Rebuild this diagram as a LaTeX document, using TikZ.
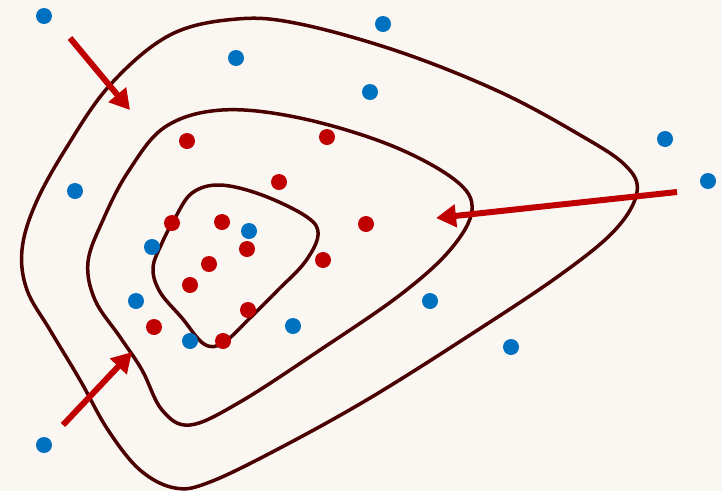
\documentclass[tikz,border=0pt]{standalone}
\usetikzlibrary{arrows.meta}
\definecolor{bg}{HTML}{FAF6F2}
\definecolor{dotblue}{HTML}{0070C0}
\definecolor{dotred}{HTML}{C00000}
\definecolor{contour}{HTML}{4A0000}
\tikzset{
  contourline/.style={draw=contour, line width=3.5pt, line join=round},
  bigarrow/.style={draw=dotred, line width=6pt, -{Triangle[length=20pt,width=22pt]}},
  bdot/.style={circle, fill=dotblue, inner sep=0pt, minimum size=16pt},
  rdot/.style={circle, fill=dotred, inner sep=0pt, minimum size=16pt}
}
\begin{document}
\begin{tikzpicture}[x=1pt,y=-1pt]
\fill[bg] (0,0) rectangle (722,491);
\useasboundingbox (0,0) rectangle (722,491);
% outer
\draw[contourline] plot[smooth cycle, tension=0.6] coordinates {
 (237,19) (300,24) (400,52) (500,92) (580,135) (625,165) (637,192) (615,230)
 (560,275) (470,335) (370,398) (280,448) (210,482) (175,488) (140,470)
 (108,430) (80,380) (50,330) (27,290) (22,250) (35,205) (65,150) (110,85) (170,35)};
% middle
\draw[contourline] plot[smooth cycle, tension=0.6] coordinates {
 (222,110) (300,118) (390,145) (455,180) (472,210) (450,250) (400,295)
 (320,350) (240,402) (190,425) (162,410) (142,370) (120,337) (95,300)
 (88,262) (103,220) (128,172) (165,127)};
% inner
\draw[contourline] plot[smooth cycle, tension=0.6] coordinates {
 (220,185) (262,195) (307,217) (318,235) (305,262) (278,290) (250,318)
 (223,343) (204,344) (182,318) (160,292) (153,268) (162,243) (175,218) (192,193)};
% arrows
\coordinate (a1s) at (70,38); \coordinate (a1e) at (130,110);
\coordinate (a2s) at (677,192); \coordinate (a2e) at (436,218);
\coordinate (a3s) at (63,425); \coordinate (a3e) at (132,352);
\draw[bigarrow] (a1s) -- (a1e);
\draw[bigarrow] (a2s) -- (a2e);
\draw[bigarrow] (a3s) -- (a3e);
% blue dots
\foreach \n/\x/\y in {b1/44/16, b2/383/24, b3/236/58, b4/370/92, b5/665/139, b6/708/181,
  b7/75/191, b8/249/231, b9/152/247, b10/136/301, b11/293/326, b12/190/341,
  b13/430/301, b14/511/347, b15/44/445}
  \node[bdot] (\n) at (\x,\y) {};
% red dots
\foreach \n/\x/\y in {r1/187/141, r2/327/137, r3/279/182, r4/172/223, r5/222/222,
  r6/366/224, r7/247/249, r8/209/264, r9/323/260, r10/190/285, r11/248/310,
  r12/154/327, r13/223/341}
  \node[rdot] (\n) at (\x,\y) {};
\end{tikzpicture}
\end{document}
